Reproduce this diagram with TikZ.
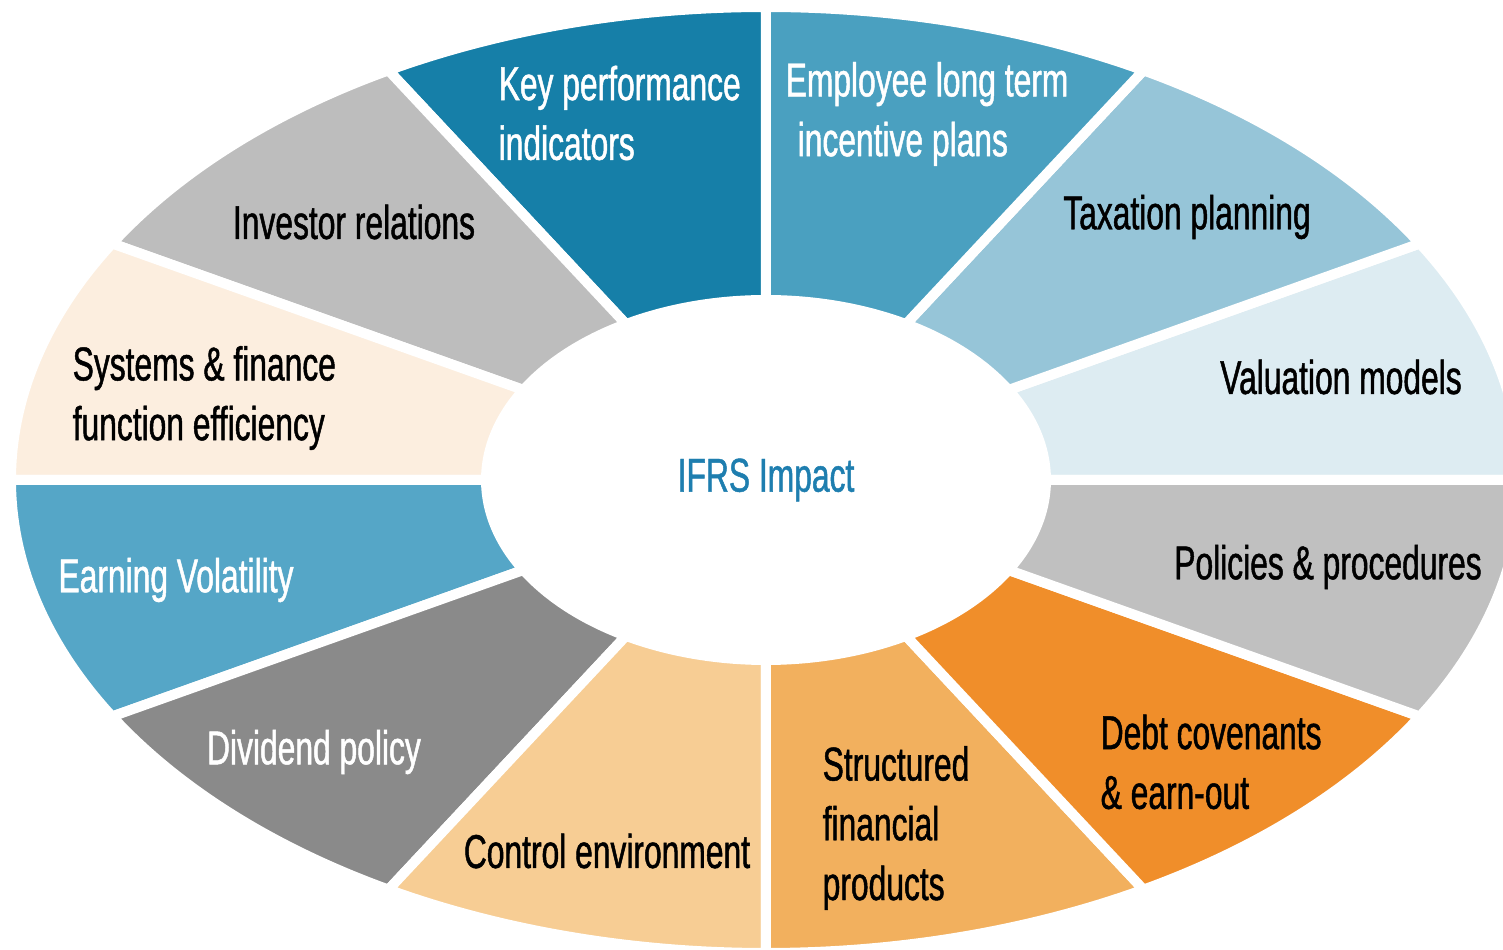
\documentclass[tikz,border=0pt]{standalone}
\usepackage{fontspec}
\setmainfont{Liberation Sans}[FakeStretch=0.67, FakeBold=1]
\usepackage{xcolor}
\usepackage{tikz}

\definecolor{valblue}{RGB}{221,236,242}
\definecolor{taxblue}{RGB}{150,197,216}
\definecolor{empblue}{RGB}{74,160,192}
\definecolor{kpiblue}{RGB}{22,127,168}
\definecolor{invgray}{RGB}{189,189,189}
\definecolor{syspeach}{RGB}{252,238,223}
\definecolor{volblue}{RGB}{85,166,199}
\definecolor{divgray}{RGB}{138,138,138}
\definecolor{ctrlpeach}{RGB}{247,205,148}
\definecolor{strorange}{RGB}{242,176,94}
\definecolor{debtorange}{RGB}{240,142,42}
\definecolor{polgray}{RGB}{192,192,192}
\definecolor{ifrsblue}{RGB}{30,126,175}

\begin{document}
\begin{tikzpicture}[every node/.style={font=\fontsize{13.5}{17}\selectfont, inner sep=0pt}]
    \useasboundingbox (-7.66,-4.70) rectangle (7.37,4.80);
    \clip (-7.66,-4.70) rectangle (7.37,4.80);
    % twelve slices of the ring, 30 degrees each
    \foreach \a/\c in {0/valblue, 30/taxblue, 60/empblue, 90/kpiblue, 120/invgray, 150/syspeach,
                       180/volblue, 210/divgray, 240/ctrlpeach, 270/strorange, 300/debtorange, 330/polgray}
      \filldraw[fill=\c, draw=white, line width=1mm, line join=round]
        (\a:2.80 and 1.80) -- (\a:7.55 and 4.73)
        arc[start angle=\a, end angle=\a+30, x radius=7.55, y radius=4.73]
        -- ({\a+30}:2.80 and 1.80)
        arc[start angle=\a+30, end angle=\a, x radius=2.80, y radius=1.80] -- cycle;
    \node[white, anchor=west, align=left] (kpi) at (-2.68,3.67) {Key performance\\indicators};
    \node[white, anchor=west, align=left] (ltip) at (0.19,3.66) {Employee long term\\\hspace*{1.2mm}incentive plans};
    \node (investor) at (-4.12,2.58) {Investor relations};
    \node (tax) at (4.21,2.63) {Taxation planning};
    \node[anchor=west, align=left] (systems) at (-6.94,0.82) {Systems \& finance\\function efficiency};
    \node (valuation) at (5.75,1.03) {Valuation models};
    \node[white] (volatility) at (-5.90,-1.00) {Earning Volatility};
    \node (policies) at (5.62,-0.87) {Policies \& procedures};
    \node[white] (dividend) at (-4.52,-2.72) {Dividend policy};
    \node[anchor=west, align=left] (debt) at (3.34,-2.82) {Debt covenants\\\& earn-out};
    \node (control) at (-1.59,-3.71) {Control environment};
    \node[anchor=west, align=left] (structured) at (0.56,-3.48) {Structured\\financial\\products};
    \node[ifrsblue] (ifrs) at (0,0.0) {IFRS Impact};
\end{tikzpicture}
\end{document}
